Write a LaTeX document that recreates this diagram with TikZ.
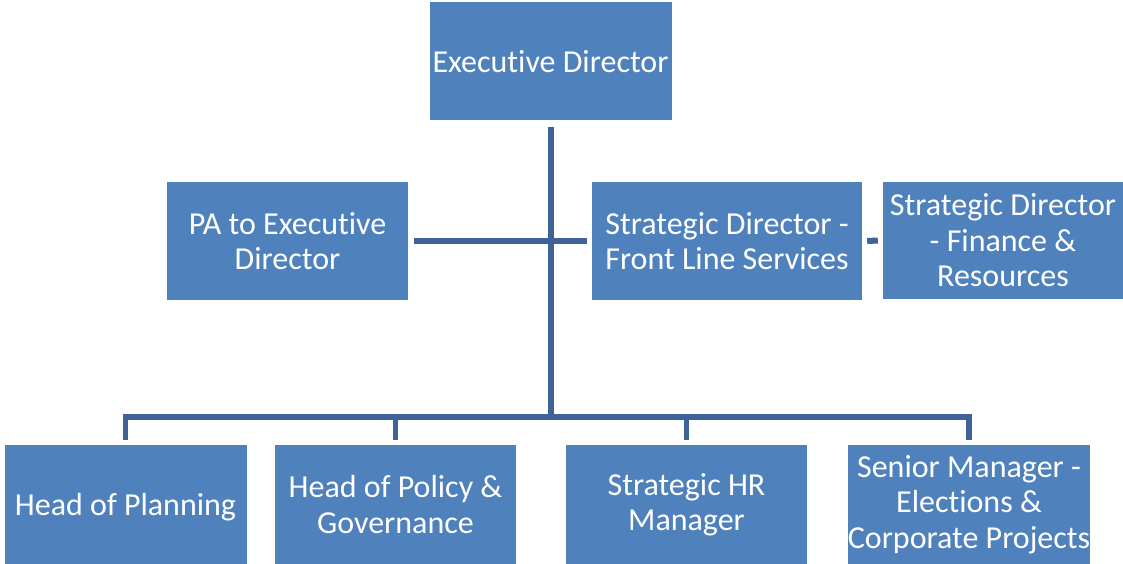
\documentclass[tikz,border=0pt]{standalone}
\usepackage{fontspec}
\setmainfont{Carlito}[Ligatures={NoCommon,NoRequired,NoContextual},Contextuals={NoAlternate}]
\definecolor{boxblue}{HTML}{4F81BD}
\definecolor{lineblue}{HTML}{3E6497}
\begin{document}
\begin{tikzpicture}[x=1pt,y=-1pt,
  orgbox/.style={rectangle, fill=boxblue, draw=none, text=white, align=center,
    font=\fontsize{32}{35.5}\selectfont, inner sep=0pt, minimum height=118pt},
  conn/.style={draw=lineblue, line width=6pt, line join=miter, line cap=butt},
  bus/.style={draw=lineblue, line width=5.5pt, line join=miter, line cap=butt}]
\useasboundingbox (0,0) rectangle (1123,564);
\node[orgbox, minimum width=242pt] (exec) at (550.5,61.5) {Execut\kern0pt ive Director};
\node[orgbox, minimum width=241pt] (pa) at (287.5,241) {PA to Execut\kern0pt ive\\Director};
\node[orgbox, minimum width=270pt] (fl) at (727,241) {Strategic Director -\\Front Line Services};
\node[orgbox, minimum width=240pt, minimum height=117pt] (fin) at (1003,240.5) {Strategic Director\\- Finance \&\\Resources};
\node[orgbox, minimum width=242pt, minimum height=119pt, text depth=0pt] (hop) at (125.5,504.5) {Head of Planning};
\node[orgbox, minimum width=241pt, minimum height=119pt] (hpol) at (395.5,504.5) {Head of Policy \&\\Governance};
\node[orgbox, minimum width=241pt, minimum height=119pt] (hr) at (686.5,504.5) {Strategic HR\\Manager};
\node[orgbox, minimum width=242pt, minimum height=119pt] (sen) at (969,504.5) {Senior Manager -\\Elect\kern0pt ions \&\\Corporate Projects};
\coordinate (bus) at (550,417);
\draw[conn] ([yshift=-6pt]exec.south) -- (exec.south |- bus);
\draw[conn] ([xshift=6pt]pa.east) -- ([xshift=-5pt]fl.west);
\draw[conn] ([xshift=5pt]fl.east) -- ([xshift=-5pt]fin.west);
\draw[bus] ([yshift=5pt]hop.north) |- (sen.north |- bus) -- ([yshift=5pt]sen.north);
\draw[bus] ([yshift=5pt]hpol.north) -- (hpol.north |- bus);
\draw[bus] ([yshift=5pt]hr.north) -- (hr.north |- bus);
\end{tikzpicture}
\end{document}
